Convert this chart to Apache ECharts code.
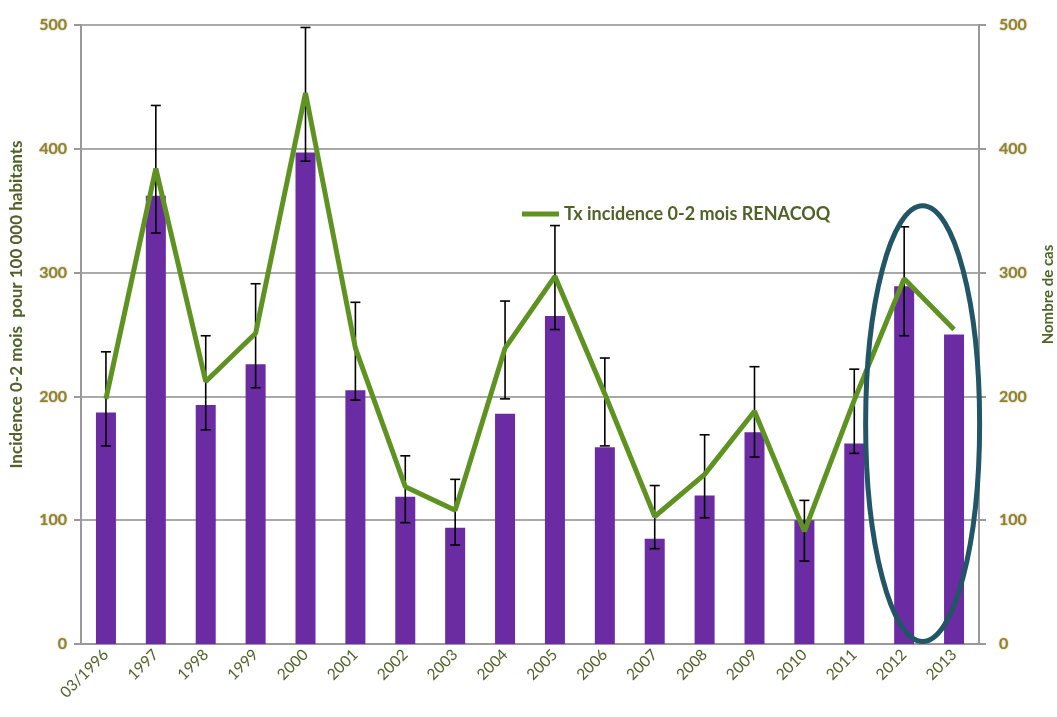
<!DOCTYPE html>
<html>
<head>
<meta charset="utf-8">
<script src="https://cdn.jsdelivr.net/npm/echarts@6/dist/echarts.min.js"></script>
<style>
  html, body { margin: 0; padding: 0; background: #fff; }
  #main { width: 1057px; height: 717px; }
</style>
</head>
<body>
<div id="main"></div>
<script>
  const years = ["03/1996", "1997", "1998", "1999", "2000", "2001", "2002", "2003", "2004",
    "2005", "2006", "2007", "2008", "2009", "2010", "2011", "2012", "2013"]
  // nombre de cas (barres, axe de droite)
  const nbCas = [187, 362, 193, 226, 397, 205, 119, 94, 186, 265, 159, 85, 120, 171, 100, 162, 289, 250]
  // taux d'incidence 0-2 mois (ligne, axe de gauche)
  const incidence = [198, 384, 212, 251, 445, 239, 127, 108, 239, 297, 202, 103, 137, 188, 91, 197, 295, 254]
  // intervalles de confiance
  const errLow = [160, 332, 173, 207, 390, 197, 98, 80, 198, 254, 160, 77, 102, 151, 67, 154, 249, null]
  const errHigh = [236, 435, 249, 291, 498, 276, 152, 133, 277, 338, 231, 128, 169, 224, 116, 222, 337, null]

  const green = "#5e9322"
  const textGreen = "#4f6228"
  const tickGold = "#a0820f"
  const font = "Lato, 'Open Sans', sans-serif"

  const errData = []
  years.forEach((y, i) => {
    if (errLow[i] != null) errData.push([i, errLow[i], errHigh[i]])
  })

  const yLabel = {
    color: tickGold,
    fontSize: 16,
    fontWeight: "bold",
    fontFamily: font,
    textShadowColor: "rgba(80,140,210,0.7)",
    textShadowBlur: 2,
  }

  const myChart = echarts.init(document.getElementById("main"))
  const option = {
    animation: false,
    grid: { left: 81, right: 78, top: 25, bottom: 73, outerBoundsMode: "none", containLabel: false },
    legend: {
      data: ["Tx incidence 0-2 mois RENACOQ"],
      left: 517,
      top: 200,
      icon: "rect",
      itemWidth: 37,
      itemHeight: 5,
      itemGap: 4,
      textStyle: { color: textGreen, fontSize: 18, fontWeight: "bold", fontFamily: font },
    },
    xAxis: {
      type: "category",
      data: years,
      axisLine: { lineStyle: { color: "#999", width: 2 } },
      axisTick: { length: 6, lineStyle: { color: "#999", width: 2 } },
      axisLabel: {
        rotate: 45,
        color: textGreen,
        fontSize: 15.5,
        fontFamily: font,
        margin: 8,
        interval: 0,
      },
    },
    yAxis: [
      {
        type: "value",
        min: 0,
        max: 500,
        interval: 100,
        name: "Incidence 0-2 mois  pour 100 000 habitants",
        nameLocation: "middle",
        nameGap: 56,
        nameTextStyle: {
          color: textGreen, fontSize: 17, fontWeight: "bold", fontFamily: font,
          padding: [0, 0, 0, 60],
        },
        axisLine: { show: true, lineStyle: { color: "#999", width: 2 } },
        axisTick: { show: true, length: 7, lineStyle: { color: "#999", width: 2 } },
        axisLabel: Object.assign({ margin: 14 }, yLabel),
        splitLine: { lineStyle: { color: "#8c8c8c", width: 1.5 } },
      },
      {
        type: "value",
        min: 0,
        max: 500,
        interval: 100,
        name: "Nombre de cas",
        nameLocation: "middle",
        nameGap: 62,
        nameTextStyle: {
          color: textGreen, fontSize: 15, fontWeight: "bold", fontFamily: font,
          padding: [0, 0, 0, 80],
        },
        axisLine: { show: true, lineStyle: { color: "#999", width: 2 } },
        axisTick: { show: true, length: 7, lineStyle: { color: "#999", width: 2 } },
        axisLabel: Object.assign({ margin: 20 }, yLabel),
        splitLine: { show: false },
      },
    ],
    series: [
      {
        name: "Nombre de cas",
        type: "bar",
        yAxisIndex: 1,
        data: nbCas,
        barWidth: 20,
        itemStyle: { color: "#6a2ba3" },
        z: 2,
      },
      {
        name: "IC",
        type: "custom",
        yAxisIndex: 0,
        data: errData,
        z: 3,
        renderItem(params, api) {
          const i = api.value(0)
          const lo = api.coord([i, api.value(1)])
          const hi = api.coord([i, api.value(2)])
          const cap = 5
          const st = { stroke: "#000", lineWidth: 1.6 }
          return {
            type: "group",
            children: [
              { type: "line", shape: { x1: lo[0], y1: lo[1], x2: hi[0], y2: hi[1] }, style: st },
              { type: "line", shape: { x1: lo[0] - cap, y1: lo[1], x2: lo[0] + cap, y2: lo[1] }, style: st },
              { type: "line", shape: { x1: hi[0] - cap, y1: hi[1], x2: hi[0] + cap, y2: hi[1] }, style: st },
            ],
          }
        },
      },
      {
        name: "Tx incidence 0-2 mois RENACOQ",
        type: "line",
        yAxisIndex: 0,
        data: incidence,
        showSymbol: false,
        symbol: "none",
        lineStyle: { color: green, width: 5 },
        itemStyle: { color: green },
        z: 4,
      },
    ],
  }
  myChart.setOption(option)

  // ellipse autour de 2012-2013
  const p16 = myChart.convertToPixel({ xAxisIndex: 0 }, 16)
  const p17 = myChart.convertToPixel({ xAxisIndex: 0 }, 17)
  const yTop = myChart.convertToPixel({ yAxisIndex: 0 }, 354)
  const yBot = myChart.convertToPixel({ yAxisIndex: 0 }, 2)
  const cx = p16 + 0.37 * (p17 - p16)
  myChart.setOption({
    graphic: [
      {
        type: "ellipse",
        z: 100,
        shape: { cx: cx, cy: (yTop + yBot) / 2, rx: 57, ry: (yBot - yTop) / 2 },
        style: { fill: "none", stroke: "#225566", lineWidth: 5 },
      },
    ],
  })
</script>
</body>
</html>
